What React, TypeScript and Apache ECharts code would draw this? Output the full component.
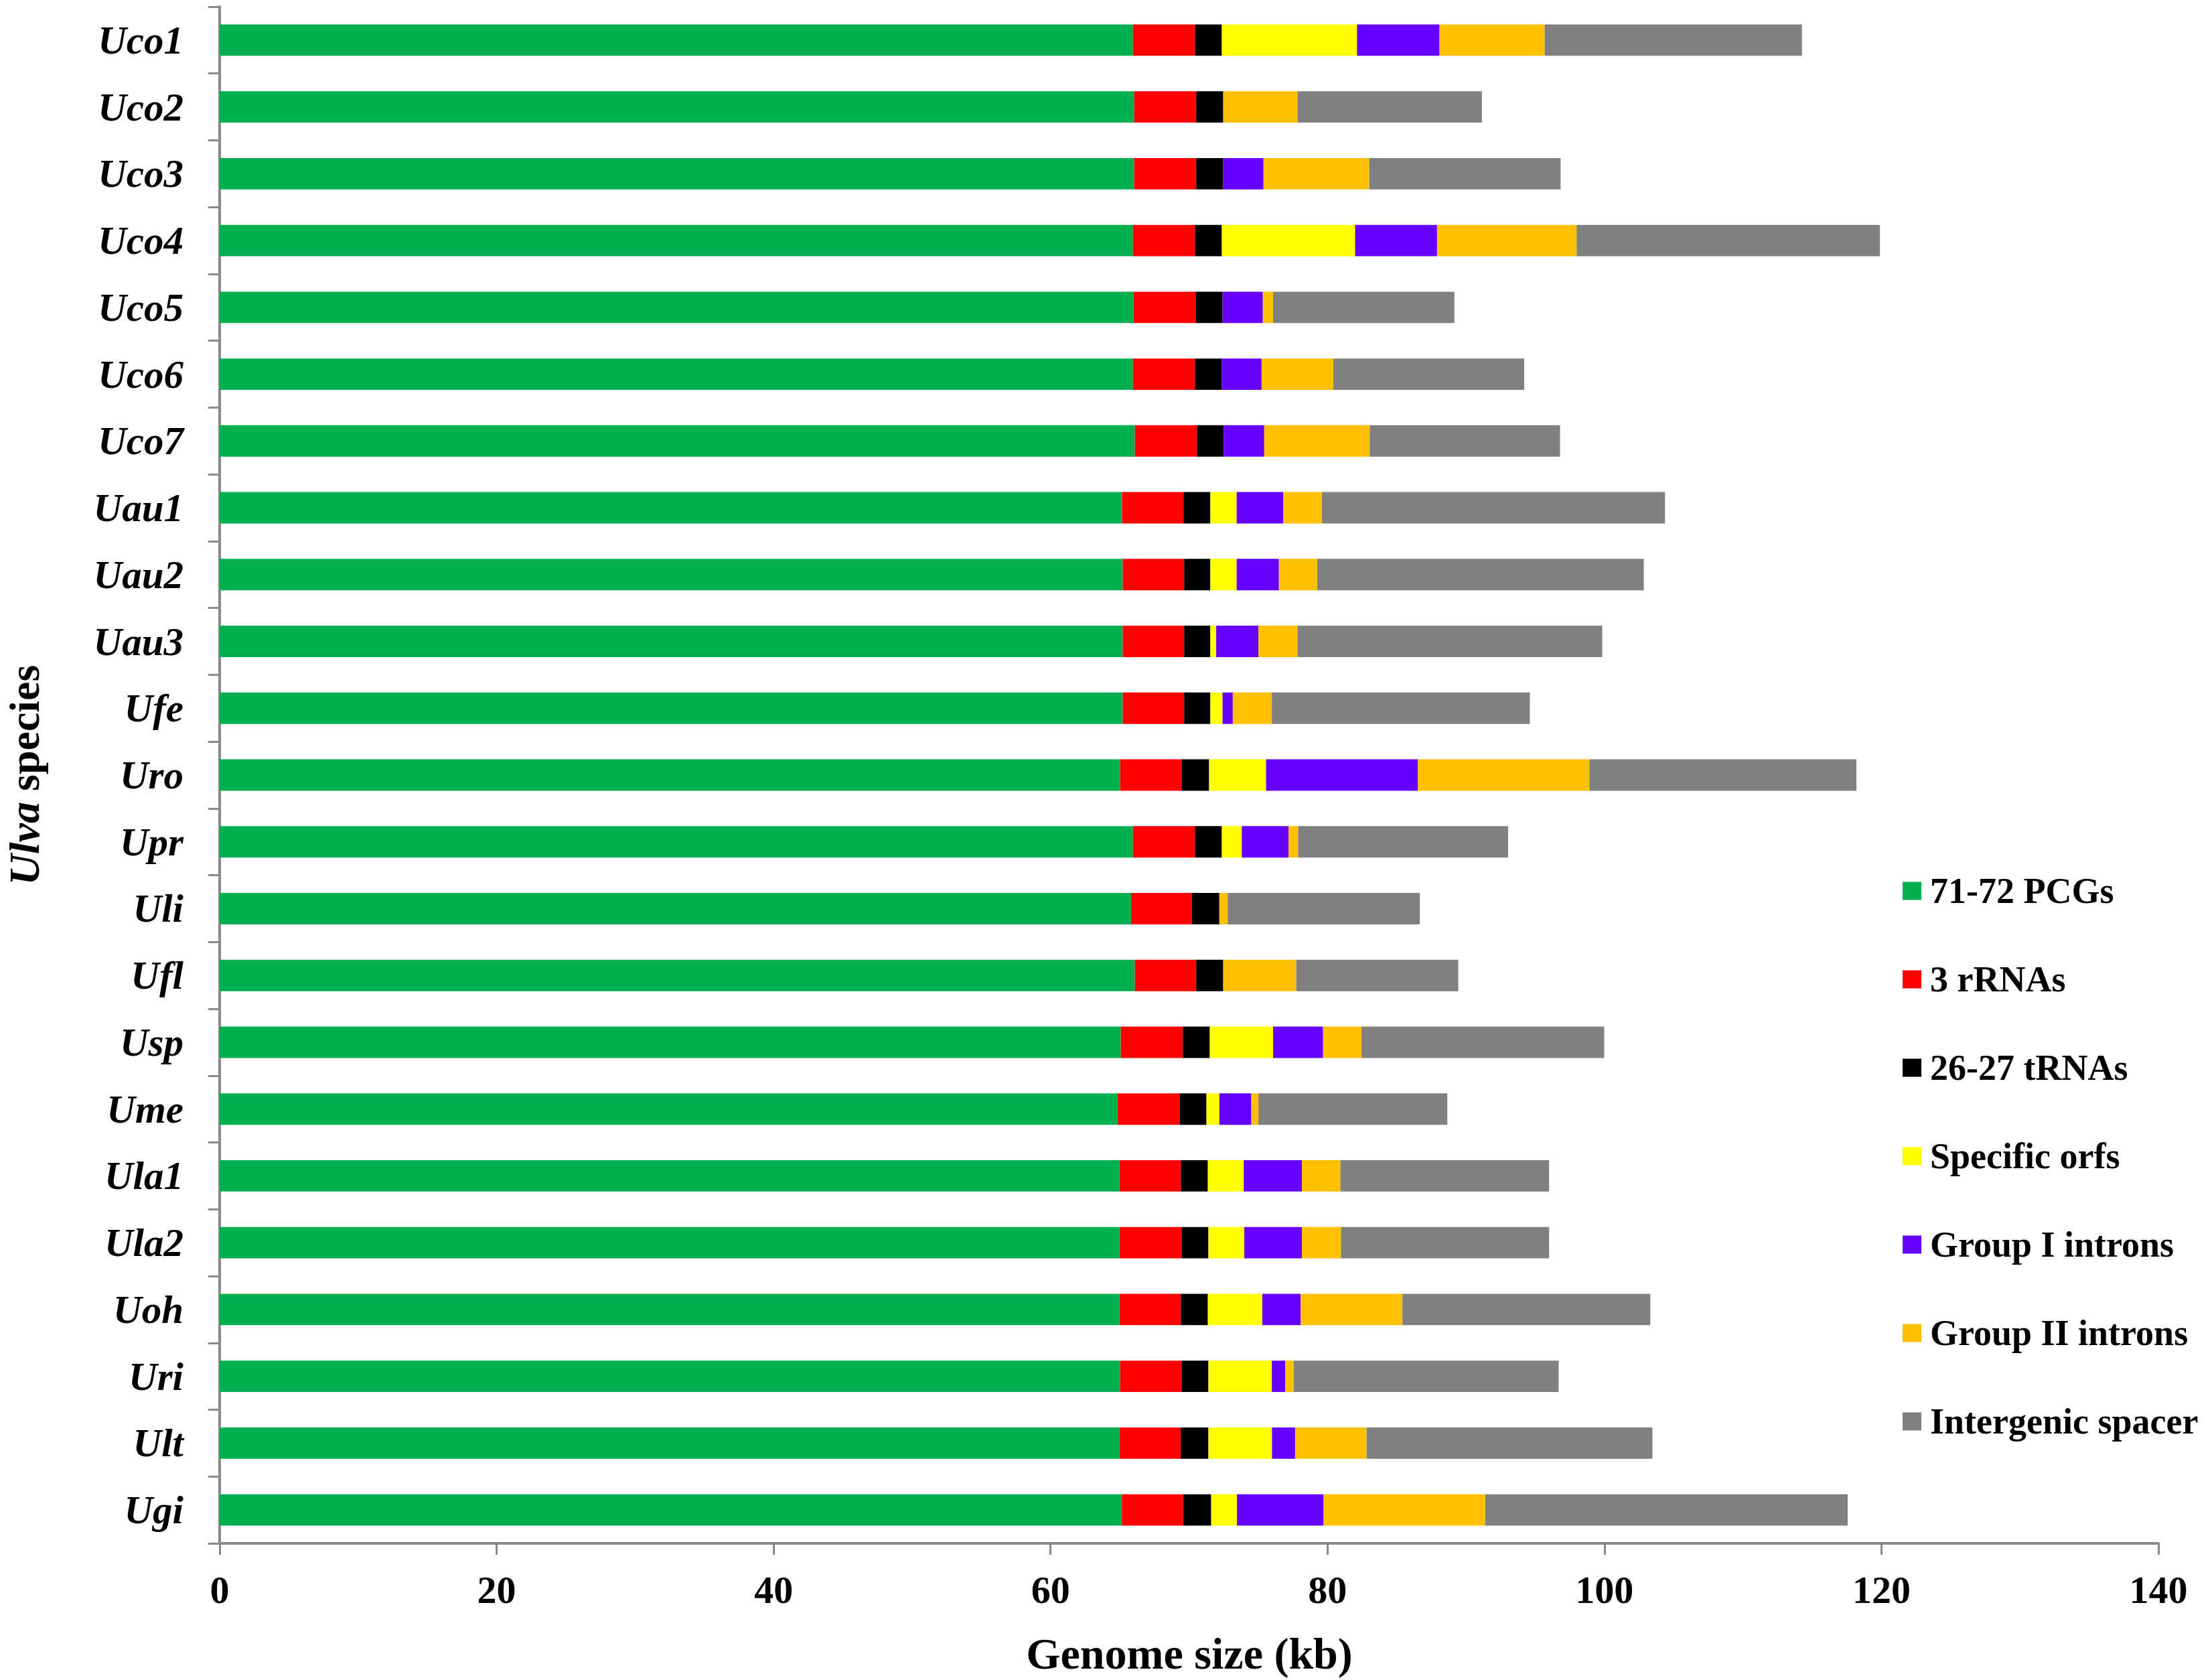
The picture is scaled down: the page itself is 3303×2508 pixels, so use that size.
import React, { useEffect, useRef } from 'react';
import * as echarts from 'echarts';

const categories = ['Uco1', 'Uco2', 'Uco3', 'Uco4', 'Uco5', 'Uco6', 'Uco7', 'Uau1', 'Uau2', 'Uau3', 'Ufe', 'Uro', 'Upr', 'Uli', 'Ufl', 'Usp', 'Ume', 'Ula1', 'Ula2', 'Uoh', 'Uri', 'Ult', 'Ugi'];

const pcgs = [65.95, 66.04, 66.04, 65.95, 65.99, 65.95, 66.09, 65.16, 65.21, 65.21, 65.21, 65.02, 65.95, 65.81, 66.09, 65.07, 64.84, 64.98, 64.98, 64.98, 65.02, 65.0, 65.15];
const rrnas = [4.48, 4.48, 4.48, 4.48, 4.49, 4.48, 4.48, 4.44, 4.44, 4.44, 4.44, 4.44, 4.48, 4.39, 4.43, 4.48, 4.48, 4.43, 4.48, 4.43, 4.44, 4.4, 4.44];
const trnas = [1.94, 1.95, 1.95, 1.94, 1.94, 1.94, 1.94, 1.94, 1.89, 1.89, 1.89, 1.99, 1.94, 1.99, 1.95, 1.95, 1.94, 1.95, 1.94, 1.95, 1.94, 2.0, 2.01];
const orfs = [9.76, 0, 0, 9.62, 0, 0, 0, 1.9, 1.9, 0.42, 0.88, 4.11, 1.44, 0, 0, 4.57, 0.93, 2.59, 2.59, 3.93, 4.58, 4.59, 1.86];
const groupI = [5.96, 0, 2.91, 5.92, 2.91, 2.87, 2.92, 3.37, 3.05, 3.05, 0.74, 10.96, 3.37, 0, 0, 3.61, 2.31, 4.2, 4.16, 2.77, 0.97, 1.67, 6.26];
const groupII = [7.59, 5.36, 7.63, 10.08, 0.74, 5.18, 7.62, 2.78, 2.77, 2.82, 2.82, 12.39, 0.7, 0.6, 5.27, 2.77, 0.51, 2.78, 2.82, 7.35, 0.6, 5.16, 11.66];
const spacer = [18.58, 13.32, 13.82, 21.9, 13.09, 13.78, 13.74, 24.78, 23.58, 22.01, 18.63, 19.28, 15.16, 13.87, 11.7, 17.53, 13.64, 15.07, 15.03, 17.9, 19.14, 20.64, 26.18];

const seriesNames = ['71-72 PCGs', '3 rRNAs', '26-27 tRNAs', 'Specific orfs', 'Group I introns', 'Group II introns', 'Intergenic spacer'];
const seriesColors = ['#00B050', '#FF0000', '#000000', '#FFFF00', '#6600FF', '#FFC000', '#808080'];
const seriesValues = [pcgs, rrnas, trnas, orfs, groupI, groupII, spacer];

const xTicks = { min: 0, max: 140, interval: 20 };

const FONT = '"Liberation Serif", "Times New Roman", serif';
const AXIS_GREY = '#898989';

export default function App() {
  const ref = useRef<HTMLDivElement>(null);
  useEffect(() => {
    const chart = echarts.init(ref.current!, null, { renderer: 'svg' });
    chart.setOption({
      animation: false,
      backgroundColor: '#ffffff',
      grid: { left: 328, top: 10, width: 2895, height: 2294, containLabel: false },
      xAxis: {
        type: 'value',
        min: xTicks.min,
        max: xTicks.max,
        interval: xTicks.interval,
        splitLine: { show: false },
        axisLine: { show: true, lineStyle: { color: AXIS_GREY, width: 4 } },
        axisTick: { show: true, length: 17, lineStyle: { color: AXIS_GREY, width: 3 } },
        axisLabel: { color: '#000', fontFamily: FONT, fontWeight: 'bold', fontSize: 58, margin: 40 },
      },
      yAxis: {
        type: 'category',
        data: categories,
        inverse: true,
        axisLine: { show: true, lineStyle: { color: AXIS_GREY, width: 4 } },
        axisTick: { show: true, length: 17, lineStyle: { color: AXIS_GREY, width: 3 } },
        axisLabel: { color: '#000', fontFamily: FONT, fontWeight: 'bold', fontStyle: 'italic', fontSize: 59, margin: 54 },
      },
      legend: {
        orient: 'vertical',
        left: 2841,
        top: 1303,
        icon: 'rect',
        itemWidth: 28,
        itemHeight: 27,
        itemGap: 78,
        padding: 0,
        data: seriesNames,
        textStyle: { color: '#000', fontFamily: FONT, fontWeight: 'bold', fontSize: 54, lineHeight: 54, padding: [0, 0, 0, 8] },
      },
      graphic: [
        {
          type: 'text',
          x: 36,
          y: 1157,
          rotation: Math.PI / 2,
          style: {
            text: '{a|Ulva}{b| species}',
            align: 'center',
            verticalAlign: 'middle',
            fill: '#000',
            rich: {
              a: { fontFamily: FONT, fontWeight: 'bold', fontStyle: 'italic', fontSize: 64, fill: '#000' },
              b: { fontFamily: FONT, fontWeight: 'bold', fontSize: 64, fill: '#000' },
            },
          },
        },
        {
          type: 'text',
          x: 1776,
          y: 2468,
          style: {
            text: 'Genome size (kb)',
            align: 'center',
            verticalAlign: 'middle',
            fill: '#000',
            fontFamily: FONT,
            fontWeight: 'bold',
            fontSize: 66,
          },
        },
      ],
      series: seriesNames.map((name, i) => ({
        name,
        type: 'bar',
        stack: 'total',
        barWidth: '47%',
        itemStyle: { color: seriesColors[i] },
        data: seriesValues[i],
      })),
    });
    return () => chart.dispose();
  }, []);
  return <div ref={ref} style={{ position: 'absolute', left: 0, top: 0, width: 3303, height: 2508, background: '#fff' }} />;
}
